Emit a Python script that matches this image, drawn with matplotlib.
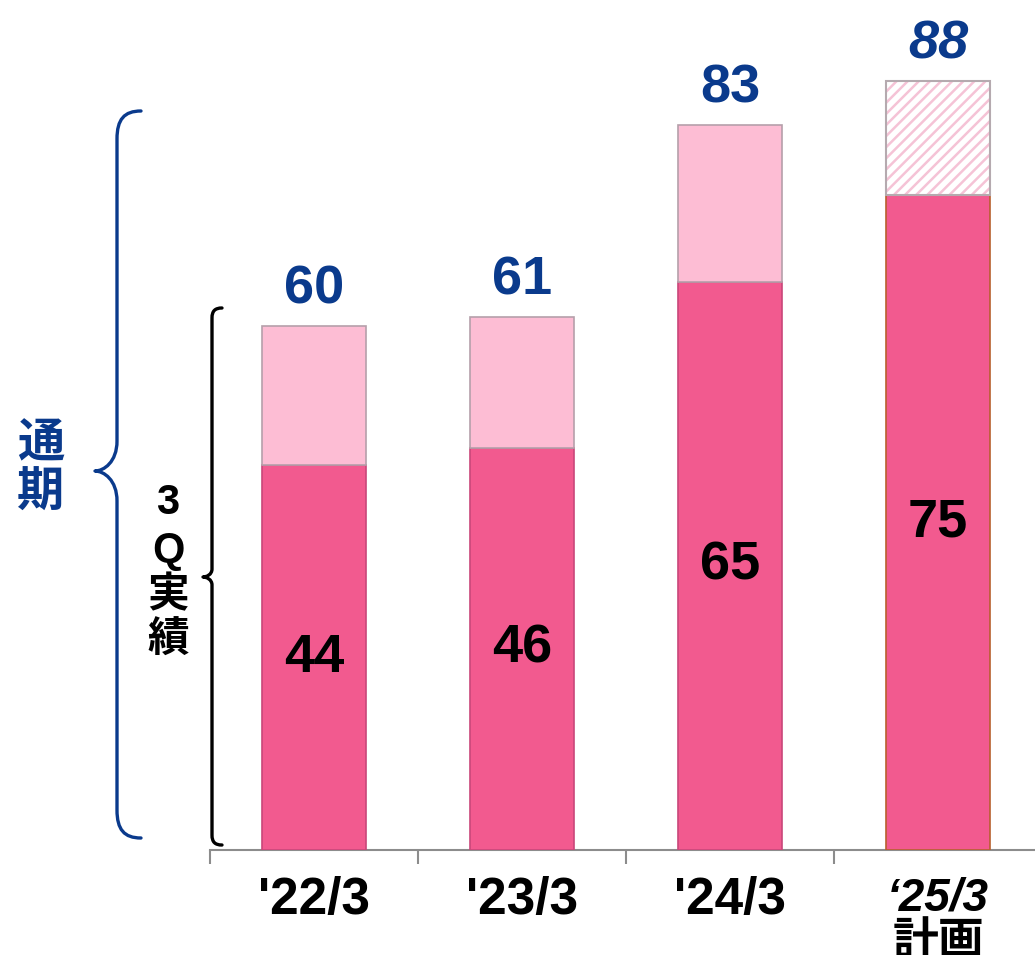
import numpy as np
import matplotlib
matplotlib.use('Agg')
import matplotlib.pyplot as plt
from matplotlib.path import Path
from matplotlib.patches import PathPatch

# ---- data ----
categories = ["'22/3", "'23/3", "'24/3", "\u201825/3\n計画"]
q3_values = [44, 46, 65, 75]
full_year = [60, 61, 83, 88]
q3_labels = ['44', '46', '65', '75']
full_labels = ['60', '61', '83', '88']
is_plan = [False, False, False, True]

plt.rcParams['font.family'] = ['Liberation Sans', 'Noto Sans CJK JP', 'DejaVu Sans']
plt.rcParams['hatch.linewidth'] = 1.8

W, H = 1035, 955
DARK = '#F25A8F'
LIGHT = '#FDBDD4'
BLUE = '#0A3A8C'
GRAY = '#8C8C8C'

fig = plt.figure(figsize=(W / 100, H / 100), dpi=100)
ax = fig.add_axes([210 / W, 1 - 850 / H, 832 / W, (850 - 21) / H])
ax.set_xlim(-0.5, 3.5)
ax.set_ylim(0, 829 / 8.74)

x = np.arange(len(categories))
rest = [f - q for f, q in zip(full_year, q3_values)]

for i in range(len(categories)):
    ax.bar(x[i], q3_values[i], width=0.5, color=DARK,
           edgecolor='#B8602E' if is_plan[i] else '#C9477A', linewidth=1.2, zorder=3)
    if is_plan[i]:
        ax.bar(x[i], rest[i], bottom=q3_values[i], width=0.5, facecolor='white',
               edgecolor='#F5C3D6', hatch='///', linewidth=0, zorder=3)
        ax.bar(x[i], rest[i], bottom=q3_values[i], width=0.5, facecolor='none',
               edgecolor='#B5AAAF', linewidth=1.5, zorder=4)
    else:
        ax.bar(x[i], rest[i], bottom=q3_values[i], width=0.5, color=LIGHT,
               edgecolor='#B5A0AA', linewidth=1.2, zorder=3)
    # inside label
    ax.text(x[i], q3_values[i] / 2, q3_labels[i], ha='center', va='center',
            fontsize=39, fontweight='bold', color='black', zorder=5)
    # total label
    ax.annotate(full_labels[i], (x[i], full_year[i]), xytext=(0, 8),
                textcoords='offset points', ha='center', va='bottom',
                fontsize=39, fontweight='bold', color=BLUE,
                style='italic' if is_plan[i] else 'normal',
                annotation_clip=False, zorder=5)

for s in ['left', 'top', 'right']:
    ax.spines[s].set_visible(False)
ax.spines['bottom'].set_color(GRAY)
ax.spines['bottom'].set_linewidth(1.5)
ax.set_yticks([])
ax.set_xticks(x)
ax.set_xticklabels(categories, fontsize=37, fontweight='bold')
ax.tick_params(axis='x', which='major', length=0, pad=19)
ax.set_xticks([-0.5, 0.5, 1.5, 2.5], minor=True)
ax.tick_params(axis='x', which='minor', length=10, width=1.5, color=GRAY)
lab = ax.get_xticklabels()[3]
lab.set_style('italic')
lab.set_fontsize(33)
lab.set_linespacing(1.02)


def P(px, py):
    return (px / W, 1 - py / H)


def brace(xv, xtip, ytop, ymid, ybot, xend, r, tip, color, lw):
    verts = [P(xend, ytop), P(xv + (xend - xv) * 0.3, ytop), P(xv, ytop + r * 0.3), P(xv, ytop + r),
             P(xv, ymid - tip), P(xv, ymid - tip * 0.3), P(xtip + (xv - xtip) * 0.4, ymid), P(xtip, ymid),
             P(xtip + (xv - xtip) * 0.4, ymid), P(xv, ymid + tip * 0.3), P(xv, ymid + tip),
             P(xv, ybot - r), P(xv, ybot - r * 0.3), P(xv + (xend - xv) * 0.3, ybot), P(xend, ybot)]
    codes = [Path.MOVETO, Path.CURVE4, Path.CURVE4, Path.CURVE4,
             Path.LINETO, Path.CURVE4, Path.CURVE4, Path.CURVE4,
             Path.CURVE4, Path.CURVE4, Path.CURVE4,
             Path.LINETO, Path.CURVE4, Path.CURVE4, Path.CURVE4]
    patch = PathPatch(Path(verts, codes), facecolor='none', edgecolor=color, lw=lw,
                      transform=fig.transFigure, capstyle='round', joinstyle='round')
    fig.patches.append(patch)


brace(117, 95, 111, 471, 838, 141, 28, 30, BLUE, 2.4)
brace(212, 203, 308, 577, 845, 222, 10, 8, 'black', 2.4)

for ch, yy in zip('通期', [445, 495]):
    fig.text(*P(41, yy), ch, ha='center', va='center', fontsize=34,
             fontweight='bold', color=BLUE)
for ch, yy in zip(['3', 'Q', '実', '績'], [503, 551, 596, 641]):
    fig.text(*P(168, yy), ch, ha='center', va='center', fontsize=30,
             fontweight='bold', color='black')

fig.savefig('out.png', dpi=100)
